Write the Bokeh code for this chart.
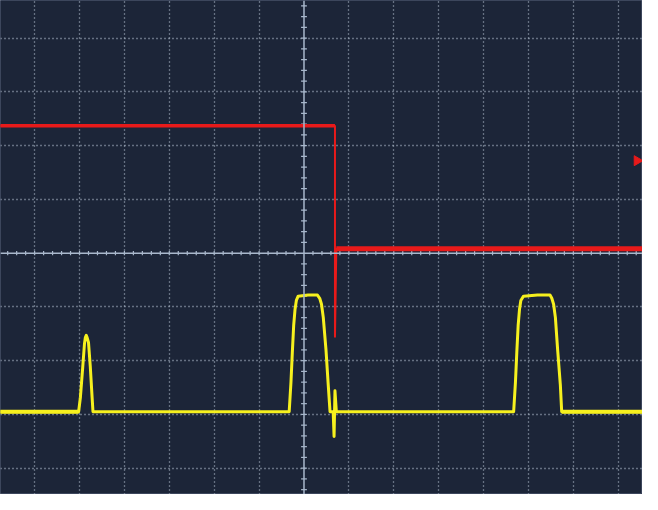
import numpy as np
from bokeh.plotting import figure
from bokeh.models import Range1d, FixedTicker, Span
from bokeh.embed import file_html
from bokeh.resources import INLINE

# Screen extent in divisions (center of graticule = 0,0)
x_lo, x_hi = -6.76, 7.54
y_lo, y_hi = -4.49, 4.70

# Channel 2 (red) trace, divisions
red_x = [-6.80, 0.69, 0.69, 0.72, 7.60]
red_y = [2.37, 2.37, -1.57, 0.08, 0.08]

# Channel 1 (yellow) trace, divisions
yel_x = [-6.80, -5.02, -4.98, -4.93, -4.89, -4.87, -4.85, -4.83, -4.80, -4.76, -4.72, -4.70,
         -0.33, -0.29, -0.26, -0.23, -0.20, -0.17, -0.13, 0.09, 0.30, 0.35, 0.39, 0.43, 0.49, 0.54, 0.58,
         0.65, 0.67, 0.69, 0.72,
         4.67, 4.71, 4.74, 4.77, 4.80, 4.83, 4.89, 5.20, 5.48, 5.52, 5.56, 5.60, 5.65, 5.71, 5.74, 7.60]
yel_y = [-2.95, -2.95, -2.68, -2.14, -1.69, -1.57, -1.53, -1.57, -1.66, -2.11, -2.68, -2.95,
         -2.95, -2.40, -1.85, -1.35, -1.05, -0.88, -0.80, -0.78, -0.78, -0.84, -0.95, -1.20, -1.80, -2.45, -2.95,
         -2.95, -3.41, -2.56, -2.95,
         -2.95, -2.40, -1.85, -1.35, -1.05, -0.88, -0.80, -0.78, -0.78, -0.84, -0.95, -1.20, -1.80, -2.45, -2.95, -2.95]

# Channel 2 reference marker
marker_x = [7.42]
marker_y = [1.72]

BG = "#1c2538"
GRID = "#b0bccc"
AXIS = "#a9b8cc"
YEL = "#f6f01e"
RED = "#e81a1a"

p = figure(width=642, height=494, output_backend="svg", toolbar_location=None,
           x_range=Range1d(x_lo, x_hi), y_range=Range1d(y_lo, y_hi),
           min_border=0, background_fill_color=BG, border_fill_color=BG,
           outline_line_color="#3c465c", outline_line_width=1)

p.xaxis.visible = False
p.yaxis.visible = False

xt = [t for t in range(-6, 8) if t != 0]
yt = [t for t in range(-4, 5) if t != 0]
p.xgrid.ticker = FixedTicker(ticks=xt)
p.ygrid.ticker = FixedTicker(ticks=yt)
for g in (p.xgrid, p.ygrid):
    g.grid_line_color = GRID
    g.grid_line_dash = "1 3"
    g.grid_line_width = 1.3
    g.grid_line_alpha = 1.0

# Center cross with minor ticks
p.add_layout(Span(location=0, dimension="width", line_color=AXIS, line_width=1.5))
p.add_layout(Span(location=0, dimension="height", line_color=AXIS, line_width=1.5))
mx = np.round(np.arange(-6.8, 7.6, 0.2), 3)
mx = mx[np.abs(mx) > 1e-6]
p.segment(x0=mx, y0=-0.04, x1=mx, y1=0.04, line_color=AXIS, line_width=1.2)
my = np.round(np.arange(-4.4, 4.8, 0.2), 3)
my = my[np.abs(my) > 1e-6]
p.segment(x0=-0.065, y0=my, x1=0.065, y1=my, line_color=AXIS, line_width=1.2)

# Traces
p.line(yel_x, yel_y, line_color=YEL, line_width=3, line_join="round")
p.line(yel_x[:2], yel_y[:2], line_color=YEL, line_width=4)
p.line(yel_x[-2:], yel_y[-2:], line_color=YEL, line_width=4)
p.line(red_x, red_y, line_color=RED, line_width=2)
p.line(red_x[:2], red_y[:2], line_color=RED, line_width=3.5)
p.line(red_x[-2:], red_y[-2:], line_color=RED, line_width=5)

p.scatter(marker_x, marker_y, marker="triangle", angle=-np.pi / 2, size=10,
          fill_color=RED, line_color=RED)

html = file_html(p, INLINE)
open("out.html", "w").write(html)
